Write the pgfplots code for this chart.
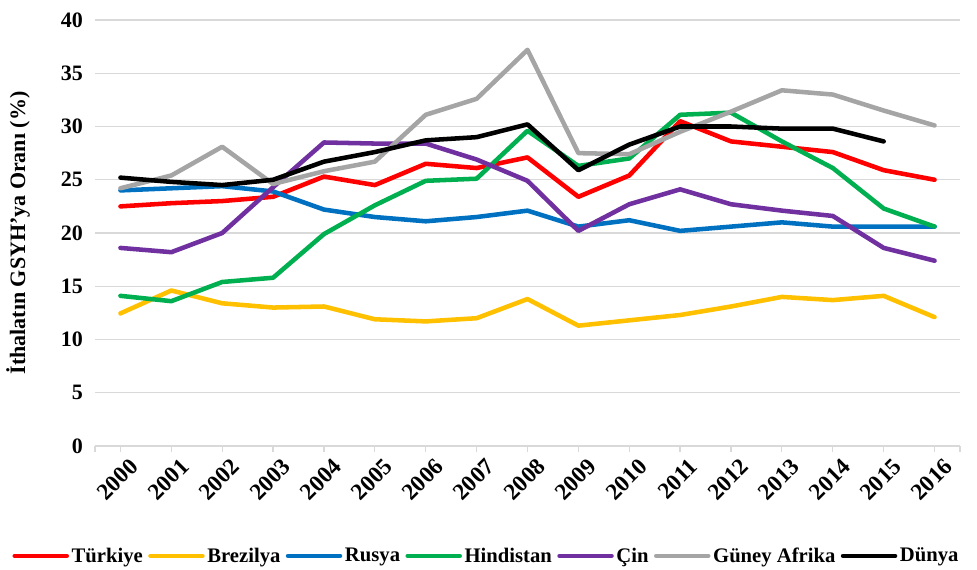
\documentclass[border=0pt]{standalone}
\usepackage{pgfplots}
\pgfplotsset{compat=1.18}
\usepackage{fontspec}
\setmainfont{Liberation Serif}
\definecolor{cTR}{HTML}{FF0000}
\definecolor{cBR}{HTML}{FFC000}
\definecolor{cRU}{HTML}{0070C0}
\definecolor{cIN}{HTML}{00B050}
\definecolor{cCN}{HTML}{7030A0}
\definecolor{cZA}{HTML}{A5A5A5}
\definecolor{cGrid}{HTML}{D9D9D9}
\begin{document}
\begin{tikzpicture}
\begin{axis}[
  scale only axis,
  width=648.75pt, height=319.5pt,
  xmin=1999.5, xmax=2016.5,
  ymin=0, ymax=40,
  xtick={2000,...,2016},
  extra x ticks={1999.5,2016.5},
  extra x tick labels={},
  ytick={0,5,...,40},
  /pgf/number format/assume math mode=true,
  /pgf/number format/1000 sep={},
  ymajorgrids,
  grid style={cGrid, line width=0.9pt},
  axis x line*=bottom,
  axis y line*=left,
  y axis line style={draw=none},
  x axis line style={cGrid, line width=0.9pt},
  ytick style={draw=none},
  xtick style={cGrid, line width=0.9pt},
  tick align=outside,
  major tick length=4.5pt,
  ticklabel style={font=\bfseries\fontsize{16.5}{18}\selectfont, text=black},
  xticklabel style={rotate=45, anchor=east, font=\bfseries\fontsize{17.5}{19}\selectfont, xshift=5pt, yshift=-13pt},
  yticklabel style={xshift=-1pt},
  ylabel={İthalatın GSYH'ya Oranı (\%)},
  ylabel style={at={(axis description cs:-0.089,0.5)}, anchor=center, font=\bfseries\fontsize{16.5}{18}\selectfont},
  every axis plot/.append style={line width=3.4pt, line join=round, line cap=round, mark=none},
  legend columns=7,
  legend style={draw=none, fill=none, at={(axis description cs:0.453,-0.258)}, anchor=center,
    font=\bfseries\fontsize{15.5}{17}\selectfont, inner xsep=0pt, inner ysep=0pt,
    nodes={inner xsep=2pt, inner ysep=1pt},
    /tikz/every even column/.append style={column sep=2pt},
    /tikz/every odd column/.append style={column sep=0pt}},
  legend image code/.code={\draw[#1, line width=3.4pt, line cap=round] (0pt,0pt) -- (39pt,0pt);},
]
\coordinate (SW) at (rel axis cs:0,0);
\addplot[cTR] coordinates {(2000,22.5)(2001,22.8)(2002,23.0)(2003,23.4)(2004,25.3)(2005,24.5)(2006,26.5)(2007,26.1)(2008,27.1)(2009,23.4)(2010,25.4)(2011,30.5)(2012,28.6)(2013,28.1)(2014,27.6)(2015,25.9)(2016,25.0)};
\addlegendentry{Türkiye}
\addplot[cBR] coordinates {(2000,12.45)(2001,14.6)(2002,13.4)(2003,13.0)(2004,13.1)(2005,11.9)(2006,11.7)(2007,12.0)(2008,13.8)(2009,11.3)(2010,11.8)(2011,12.3)(2012,13.1)(2013,14.0)(2014,13.7)(2015,14.1)(2016,12.1)};
\addlegendentry{Brezilya}
\addplot[cRU] coordinates {(2000,24.0)(2001,24.2)(2002,24.4)(2003,23.9)(2004,22.2)(2005,21.5)(2006,21.1)(2007,21.5)(2008,22.1)(2009,20.6)(2010,21.2)(2011,20.2)(2012,20.6)(2013,21.0)(2014,20.6)(2015,20.6)(2016,20.6)};
\addlegendentry{Rusya}
\addplot[cIN] coordinates {(2000,14.1)(2001,13.6)(2002,15.4)(2003,15.8)(2004,19.9)(2005,22.6)(2006,24.9)(2007,25.1)(2008,29.6)(2009,26.3)(2010,27.0)(2011,31.1)(2012,31.3)(2013,28.6)(2014,26.1)(2015,22.3)(2016,20.6)};
\addlegendentry{Hindistan}
\addplot[cCN] coordinates {(2000,18.6)(2001,18.2)(2002,20.0)(2003,24.3)(2004,28.5)(2005,28.4)(2006,28.4)(2007,26.9)(2008,24.9)(2009,20.2)(2010,22.7)(2011,24.1)(2012,22.7)(2013,22.1)(2014,21.6)(2015,18.6)(2016,17.4)};
\addlegendentry{Çin}
\addplot[cZA] coordinates {(2000,24.2)(2001,25.4)(2002,28.1)(2003,24.6)(2004,25.8)(2005,26.7)(2006,31.1)(2007,32.6)(2008,37.2)(2009,27.5)(2010,27.4)(2011,29.5)(2012,31.4)(2013,33.4)(2014,33.0)(2015,31.5)(2016,30.1)};
\addlegendentry{Güney Afrika}
\addplot[black] coordinates {(2000,25.2)(2001,24.8)(2002,24.5)(2003,25.0)(2004,26.7)(2005,27.6)(2006,28.7)(2007,29.0)(2008,30.2)(2009,25.9)(2010,28.3)(2011,30.0)(2012,30.0)(2013,29.8)(2014,29.8)(2015,28.6)};
\addlegendentry{Dünya}
\end{axis}
\pgfresetboundingbox
\path[use as bounding box] ([shift={(-71.25pt,-92.25pt)}]SW) rectangle ([shift={(661.5pt,334.5pt)}]SW);
\end{tikzpicture}
\end{document}
